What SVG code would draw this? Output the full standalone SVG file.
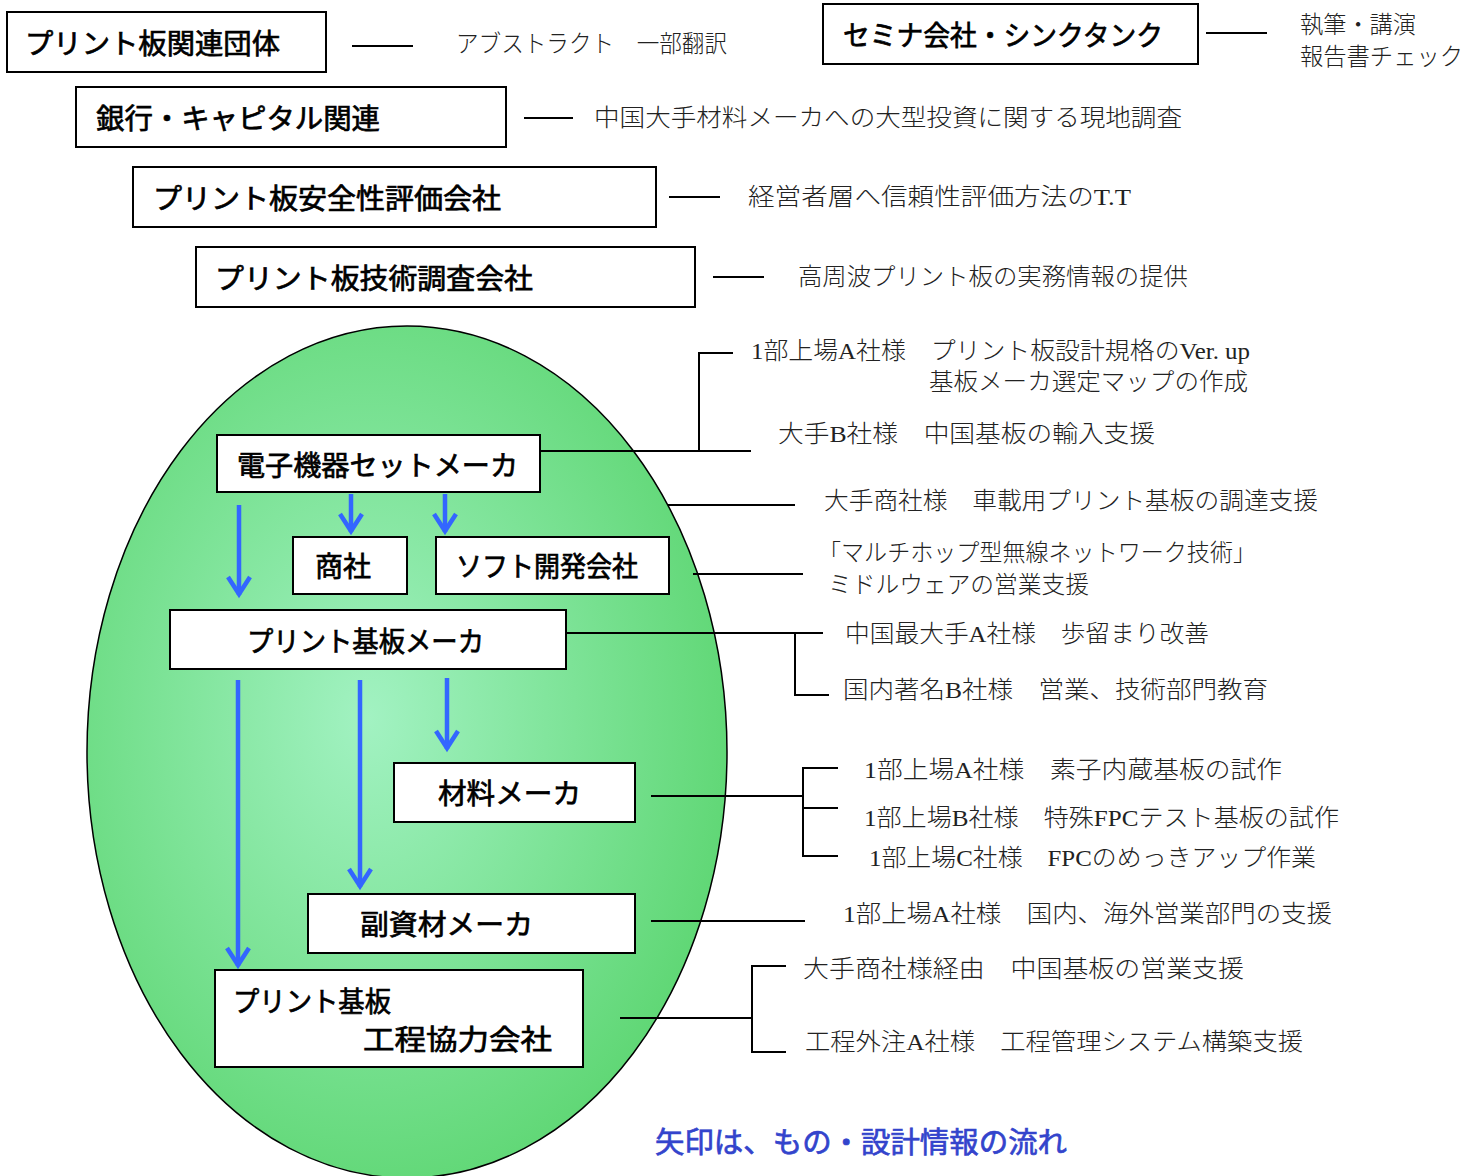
<svg xmlns="http://www.w3.org/2000/svg" width="1466" height="1176" viewBox="0 0 1466 1176">
<style>
.box{fill:#fff;stroke:#000;stroke-width:2}
.bt{font-family:"Noto Sans CJK JP","Liberation Sans",sans-serif;font-size:28px;font-weight:400;fill:#000;stroke:#000;stroke-width:0.7;dominant-baseline:central}
.st{font-family:"Liberation Serif","Noto Sans CJK JP",serif;font-size:24px;font-weight:300;fill:#222;dominant-baseline:central}
.ln{stroke:#000;stroke-width:2;fill:none}
.ar{stroke:#3366ff;stroke-width:4.5;fill:none;marker-end:url(#ah)}
.cap{font-family:"Noto Sans CJK JP","Liberation Sans",sans-serif;font-size:29px;font-weight:400;fill:#3344cc;stroke:#3344cc;stroke-width:0.7;dominant-baseline:central}
</style>
<defs>
<radialGradient id="g" cx="0.44" cy="0.46" r="0.6">
<stop offset="0" stop-color="#a2f2c2"/>
<stop offset="1" stop-color="#5dd672"/>
</radialGradient>
<marker id="ah" markerUnits="userSpaceOnUse" viewBox="-25 -15 30 30" markerWidth="30" markerHeight="30" refX="0" refY="0" orient="auto">
<path d="M-18,-11 L-1,0 L-18,11" stroke="#3366ff" stroke-width="4.5" fill="none"/>
</marker>
</defs>
<rect width="1466" height="1176" fill="#fff"/>
<ellipse id="ellipse" cx="407" cy="752" rx="320" ry="426" fill="url(#g)" stroke="#000" stroke-width="1.5"/>

<g id="connectors">
<line class="ln" x1="352" y1="46" x2="413" y2="46"/>
<line class="ln" x1="1206" y1="33" x2="1267" y2="33"/>
<line class="ln" x1="524" y1="118" x2="573" y2="118"/>
<line class="ln" x1="669" y1="197" x2="720" y2="197"/>
<line class="ln" x1="713" y1="277" x2="764" y2="277"/>
<polyline class="ln" points="733,353 699,353 699,451"/>
<line class="ln" x1="533" y1="451" x2="751" y2="451"/>
<line class="ln" x1="668" y1="505" x2="795" y2="505"/>
<line class="ln" x1="693" y1="574" x2="803" y2="574"/>
<line class="ln" x1="566" y1="633" x2="823" y2="633"/>
<polyline class="ln" points="795,633 795,695 829,695"/>
<line class="ln" x1="651" y1="796" x2="803" y2="796"/>
<polyline class="ln" points="838,768 803,768 803,856 838,856"/>
<line class="ln" x1="803" y1="808" x2="838" y2="808"/>
<line class="ln" x1="651" y1="921" x2="805" y2="921"/>
<line class="ln" x1="620" y1="1018" x2="752" y2="1018"/>
<polyline class="ln" points="786,966 752,966 752,1052 786,1052"/>
<line class="ar" x1="239" y1="505" x2="239" y2="595"/>
<line class="ar" x1="351" y1="494" x2="351" y2="532"/>
<line class="ar" x1="445" y1="494" x2="445" y2="532"/>
<line class="ar" x1="238" y1="680" x2="238" y2="966"/>
<line class="ar" x1="360" y1="680" x2="360" y2="887"/>
<line class="ar" x1="447" y1="678" x2="447" y2="749"/>
</g>

<g id="n1"><rect class="box" x="7" y="12" width="319" height="60"/><text class="bt" x="25" y="42" textLength="255" lengthAdjust="spacingAndGlyphs">プリント板関連団体</text></g>
<g id="n2"><rect class="box" x="823" y="4" width="375" height="60"/><text class="bt" x="843" y="34" textLength="320" lengthAdjust="spacingAndGlyphs">セミナ会社・シンクタンク</text></g>
<g id="n3"><rect class="box" x="76" y="87" width="430" height="60"/><text class="bt" x="96" y="117" textLength="284" lengthAdjust="spacingAndGlyphs">銀行・キャピタル関連</text></g>
<g id="n4"><rect class="box" x="133" y="167" width="523" height="60"/><text class="bt" x="153" y="197" textLength="348" lengthAdjust="spacingAndGlyphs">プリント板安全性評価会社</text></g>
<g id="n5"><rect class="box" x="196" y="247" width="499" height="60"/><text class="bt" x="215" y="277" textLength="318" lengthAdjust="spacingAndGlyphs">プリント板技術調査会社</text></g>
<g id="n6"><rect class="box" x="217" y="435" width="323" height="57"/><text class="bt" x="237" y="464" textLength="281" lengthAdjust="spacingAndGlyphs">電子機器セットメーカ</text></g>
<g id="n7"><rect class="box" x="293" y="537" width="114" height="57"/><text class="bt" x="315" y="565" textLength="56" lengthAdjust="spacingAndGlyphs">商社</text></g>
<g id="n8"><rect class="box" x="436" y="537" width="233" height="57"/><text class="bt" x="456" y="565" textLength="182" lengthAdjust="spacingAndGlyphs">ソフト開発会社</text></g>
<g id="n9"><rect class="box" x="170" y="610" width="396" height="59"/><text class="bt" x="247" y="640" textLength="237" lengthAdjust="spacingAndGlyphs">プリント基板メーカ</text></g>
<g id="n10"><rect class="box" x="394" y="763" width="241" height="59"/><text class="bt" x="438" y="792" textLength="143" lengthAdjust="spacingAndGlyphs">材料メーカ</text></g>
<g id="n11"><rect class="box" x="308" y="894" width="327" height="59"/><text class="bt" x="360" y="923" textLength="173" lengthAdjust="spacingAndGlyphs">副資材メーカ</text></g>
<g id="n12"><rect class="box" x="215" y="970" width="368" height="97"/><text class="bt" x="233" y="1000" textLength="158" lengthAdjust="spacingAndGlyphs">プリント基板</text><text class="bt" x="363" y="1038" textLength="189" lengthAdjust="spacingAndGlyphs">工程協力会社</text></g>

<g id="labels">
<text class="st" x="456" y="44" textLength="271" lengthAdjust="spacingAndGlyphs">アブストラクト　一部翻訳</text>
<text class="st" x="1300" y="25" textLength="116" lengthAdjust="spacingAndGlyphs">執筆・講演</text>
<text class="st" x="1300" y="57" textLength="163" lengthAdjust="spacingAndGlyphs">報告書チェック</text>
<text class="st" x="594" y="118" textLength="588" lengthAdjust="spacingAndGlyphs">中国大手材料メーカへの大型投資に関する現地調査</text>
<text class="st" x="748" y="197" textLength="383" lengthAdjust="spacingAndGlyphs">経営者層へ信頼性評価方法のT.T</text>
<text class="st" x="798" y="277" textLength="390" lengthAdjust="spacingAndGlyphs">高周波プリント板の実務情報の提供</text>
<text class="st" x="751" y="351" textLength="499" lengthAdjust="spacingAndGlyphs">1部上場A社様　プリント板設計規格のVer. up</text>
<text class="st" x="929" y="382" textLength="319" lengthAdjust="spacingAndGlyphs">基板メーカ選定マップの作成</text>
<text class="st" x="778" y="434" textLength="377" lengthAdjust="spacingAndGlyphs">大手B社様　中国基板の輸入支援</text>
<text class="st" x="824" y="501" textLength="494" lengthAdjust="spacingAndGlyphs">大手商社様　車載用プリント基板の調達支援</text>
<text class="st" x="818" y="553" textLength="438" lengthAdjust="spacingAndGlyphs">「マルチホップ型無線ネットワーク技術」</text>
<text class="st" x="828" y="585" textLength="261" lengthAdjust="spacingAndGlyphs">ミドルウェアの営業支援</text>
<text class="st" x="845" y="634" textLength="364" lengthAdjust="spacingAndGlyphs">中国最大手A社様　歩留まり改善</text>
<text class="st" x="843" y="690" textLength="425" lengthAdjust="spacingAndGlyphs">国内著名B社様　営業、技術部門教育</text>
<text class="st" x="864" y="770" textLength="418" lengthAdjust="spacingAndGlyphs">1部上場A社様　素子内蔵基板の試作</text>
<text class="st" x="864" y="818" textLength="475" lengthAdjust="spacingAndGlyphs">1部上場B社様　特殊FPCテスト基板の試作</text>
<text class="st" x="869" y="858" textLength="447" lengthAdjust="spacingAndGlyphs">1部上場C社様　FPCのめっきアップ作業</text>
<text class="st" x="843" y="914" textLength="489" lengthAdjust="spacingAndGlyphs">1部上場A社様　国内、海外営業部門の支援</text>
<text class="st" x="803" y="969" textLength="441" lengthAdjust="spacingAndGlyphs">大手商社様経由　中国基板の営業支援</text>
<text class="st" x="805" y="1042" textLength="498" lengthAdjust="spacingAndGlyphs">工程外注A社様　工程管理システム構築支援</text>
<text class="cap" x="655" y="1140" textLength="412" lengthAdjust="spacingAndGlyphs">矢印は、もの・設計情報の流れ</text>
</g>
</svg>
